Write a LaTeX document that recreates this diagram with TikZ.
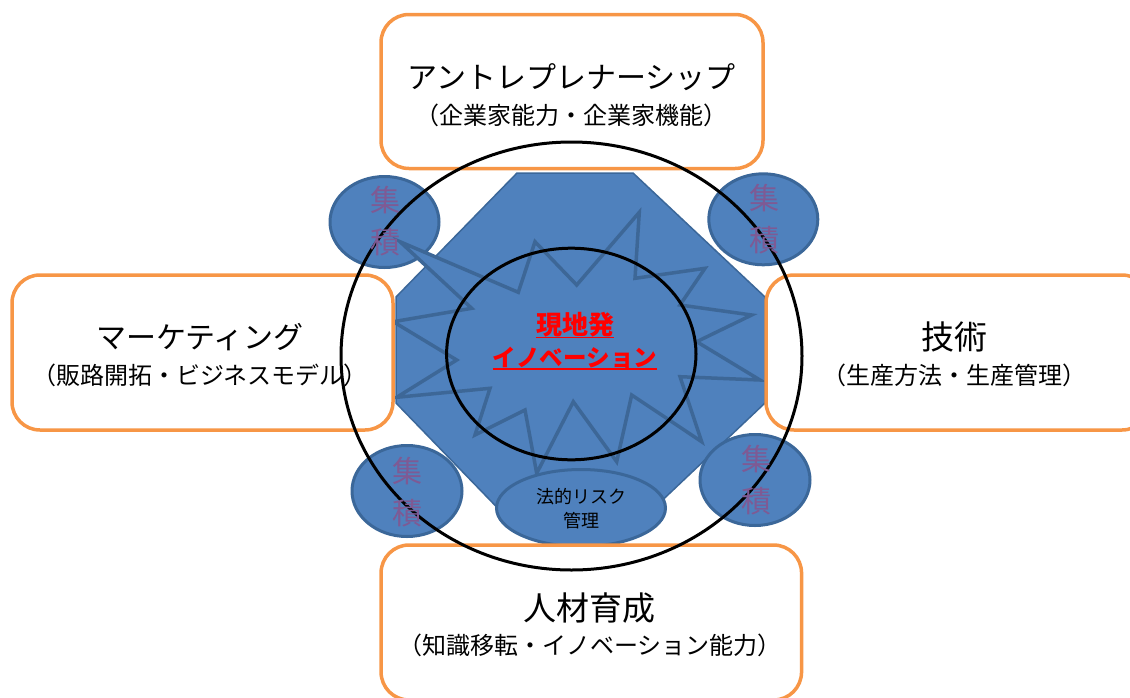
\documentclass[tikz,border=0pt]{standalone}
\usepackage{fontspec}
\setmainfont{Noto Sans CJK JP}
\usetikzlibrary{shapes.geometric}
\definecolor{fillblue}{HTML}{4F81BD}
\definecolor{edgeblue}{HTML}{3B6799}
\definecolor{starblue}{HTML}{3D6797}
\definecolor{boxorange}{HTML}{F79646}
\definecolor{shucol}{HTML}{7E5A94}
\definecolor{redtxt}{HTML}{FF0000}
\begin{document}
\begin{tikzpicture}[x=1pt,y=-1pt,
  obox/.style={rectangle,draw=boxorange,line width=3.5pt,fill=white,rounded corners=28pt,inner sep=0pt},
  blob/.style={ellipse,draw=edgeblue,line width=3pt,fill=fillblue,inner sep=0pt},
  ring/.style={draw=black,line width=3pt},
  octa/.style={draw=edgeblue,line width=1.5pt,fill=fillblue},
  burst/.style={draw=starblue,line width=3.5pt,fill=fillblue,line join=miter},
  headtxt/.style={inner sep=0pt,font=\fontsize{30}{36}\selectfont},
  headkanji/.style={inner sep=0pt,font=\fontsize{33}{38}\selectfont},
  subtxt/.style={inner sep=0pt,font=\fontsize{24}{28}\selectfont},
  shu/.style={inner sep=0pt,align=center,text=shucol,font=\fontsize{30}{42}\selectfont},
  legal/.style={inner sep=0pt,align=center,font=\fontsize{18}{23.5}\selectfont},
  ctrtxt/.style={inner sep=0pt,text=redtxt,font=\bfseries\fontsize{26}{30}\selectfont},
  ctrtxtb/.style={inner sep=0pt,text=redtxt,font=\bfseries\fontsize{23.5}{28}\selectfont},
  uline/.style={draw=redtxt,line width=1.5pt}
]
\useasboundingbox (0,0) rectangle (1130,697);
\clip (0,0) rectangle (1130,697);

% octagon
\draw[octa] (517,173) -- (633,173) -- (765,297) -- (765,403) -- (633,528) -- (517,528) -- (396,403) -- (396,297) -- cycle;

% agglomeration ellipses
\node[blob,minimum width=109pt,minimum height=91pt] (e1) at (384.5,222) {};
\node[blob,minimum width=109pt,minimum height=91pt] (e2) at (763.3,219.3) {};
\node[blob,minimum width=110pt,minimum height=91pt] (e3) at (407,491) {};
\node[blob,minimum width=110pt,minimum height=91pt] (e4) at (755,480) {};

% starburst
\draw[burst] (400,241.7) -- (518.3,292.3) -- (535,241.7) -- (576.7,285) -- (639.3,212.3)
  -- (635,278.3) -- (705,268.3) -- (680,305) -- (751.7,315) -- (696.7,341.7)
  -- (760,380) -- (680,376.7) -- (701.7,441.7) -- (631.7,395) -- (616.7,461.7)
  -- (573.3,401.7) -- (536.7,473.3) -- (525,410) -- (475,435) -- (490,388.3)
  -- (396.7,397.3) -- (456.7,360) -- (393.3,321.7) -- (471.7,308.3) -- cycle;

% legal risk ellipse
\node[blob,minimum width=169pt,minimum height=77pt] (lg) at (581,508) {};

% inner circle
\node[ring,ellipse,minimum width=249.4pt,minimum height=211.6pt,inner sep=0pt] (inner) at (571.3,354) {};

% boxes
\node[obox,minimum width=382pt,minimum height=154pt] (boxT) at (572,91.5) {};
\node[obox,minimum width=381pt,minimum height=155pt] (boxL) at (202.5,352.5) {};
\node[obox,minimum width=384pt,minimum height=155pt] (boxR) at (958,352.5) {};
\node[obox,minimum width=420.5pt,minimum height=155pt] (boxB) at (591.3,622.5) {};

% big circle
\node[ring,ellipse,minimum width=461pt,minimum height=428pt,inner sep=0pt] (outer) at (571.5,356) {};

% texts
\node[headtxt] (tT1) at (571.7,76.7) {アントレプレナーシップ};
\node[subtxt] (tT2) at (571.7,115) {（企業家能力・企業家機能）};
\node[headtxt] (tL1) at (200,336.7) {マーケティング};
\node[subtxt] (tL2) at (200,375) {（販路開拓・ビジネスモデル）};
\node[headkanji] (tR1) at (954,336.7) {技術};
\node[subtxt] (tR2) at (954,375) {（生産方法・生産管理）};
\node[headkanji] (tB1) at (589.5,608) {人材育成};
\node[subtxt] (tB2) at (590,645) {（知識移転・イノベーション能力）};

\node[shu] (s1) at (385,221.5) {集\\積};
\node[shu] (s2) at (764.5,219.5) {集\\積};
\node[shu] (s3) at (407.5,492) {集\\積};
\node[shu] (s4) at (756,480) {集\\積};

\node[legal] (lt) at (581.5,508.5) {法的リスク\\管理};

\node[ctrtxt] (c1) at (575,325) {現地発};
\node[ctrtxtb] (c2) at (575,358) {イノベーション};
\draw[uline] (c1.south west) -- (c1.south east);
\draw[uline] (c2.south west) -- (c2.south east);
\end{tikzpicture}
\end{document}
